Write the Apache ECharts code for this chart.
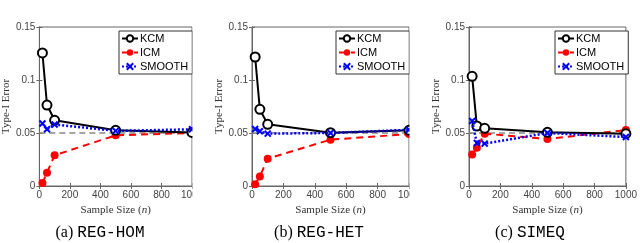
<!DOCTYPE html>
<html><head><meta charset="utf-8">
<script src="https://cdn.jsdelivr.net/npm/echarts@6/dist/echarts.min.js"></script>
<style>html,body{margin:0;padding:0;background:#fff}#c{width:640px;height:243px}</style>
</head><body><div id="c"></div>
<script>
const sampleSizes = [20, 50, 100, 500, 1000];
const seriesNames = ['KCM', 'ICM', 'SMOOTH'];
const panelLetters = ['(a)', '(b)', '(c)'];
const panelNames = ['REG-HOM', 'REG-HET', 'SIMEQ'];
const nominalLevel = 0.05;

const kcmRegHom = [0.1255, 0.0764, 0.062, 0.0525, 0.0505];
const icmRegHom = [0.0028, 0.0126, 0.029, 0.0478, 0.050];
const smoothRegHom = [0.059, 0.0535, 0.058, 0.052, 0.0535];

const kcmRegHet = [0.1217, 0.0723, 0.0582, 0.0503, 0.0525];
const icmRegHet = [0.0016, 0.009, 0.0258, 0.0437, 0.049];
const smoothRegHet = [0.0538, 0.0516, 0.0494, 0.050, 0.053];

const kcmSimeq = [0.1035, 0.0566, 0.0544, 0.0506, 0.0494];
const icmSimeq = [0.0296, 0.0362, 0.0494, 0.0443, 0.0528];
const smoothSimeq = [0.0613, 0.0406, 0.040, 0.050, 0.0462];

const panelData = [
  [kcmRegHom, icmRegHom, smoothRegHom],
  [kcmRegHet, icmRegHet, smoothRegHet],
  [kcmSimeq, icmSimeq, smoothSimeq]
];

const grids = [
  {left: 34, top: 27, width: 158, height: 159},
  {left: 252, top: 27, width: 157, height: 159},
  {left: 469, top: 27, width: 160, height: 159}
];
const legendLefts = [119, 336, 555];
const captionCenters = [100, 319, 530];

const axisColor = '#666';
const labelColor = '#444';
const xMark = 'path://M0,0L10,10M10,0L0,10';
const plainNum = v => String(v);

const xAxes = [], yAxes = [], series = [], legends = [], graphics = [];
grids.forEach((g, i) => {
  xAxes.push({
    type: 'value', gridIndex: i, min: 0, max: 1000, interval: 200, position: 'bottom',
    name: 'Sample Size ({i|n})', nameLocation: 'middle', nameGap: 14,
    nameTextStyle: {fontFamily: 'Liberation Serif', fontSize: 11, color: '#333',
      rich: {i: {fontFamily: 'Liberation Serif', fontStyle: 'italic', fontSize: 11, color: '#333'}}},
    axisLine: {show: true, lineStyle: {color: axisColor, width: 1}},
    axisTick: {show: true, inside: true, length: 3, lineStyle: {color: axisColor}},
    axisLabel: {margin: 4, fontSize: 10, color: labelColor, fontFamily: 'Liberation Sans', formatter: plainNum},
    splitLine: {show: false}
  });
  xAxes.push({
    type: 'value', gridIndex: i, min: 0, max: 1000, interval: 200, position: 'top',
    axisLine: {show: true, lineStyle: {color: axisColor, width: 1}},
    axisTick: {show: true, inside: true, length: 3, lineStyle: {color: axisColor}},
    axisLabel: {show: false}, splitLine: {show: false}
  });
  yAxes.push({
    type: 'value', gridIndex: i, min: 0, max: 0.15, interval: 0.05, position: 'left',
    name: 'Type-I Error', nameLocation: 'middle', nameGap: 23, nameRotate: 90,
    nameTextStyle: {fontFamily: 'Liberation Serif', fontSize: 11, color: '#333'},
    axisLine: {show: true, lineStyle: {color: axisColor, width: 1}},
    axisTick: {show: true, inside: true, length: 3, lineStyle: {color: axisColor}},
    axisLabel: {margin: 4, fontSize: 10, color: labelColor, fontFamily: 'Liberation Sans', formatter: plainNum},
    splitLine: {show: false}
  });
  yAxes.push({
    type: 'value', gridIndex: i, min: 0, max: 0.15, interval: 0.05, position: 'right',
    axisLine: {show: true, lineStyle: {color: axisColor, width: 1}},
    axisTick: {show: true, inside: true, length: 3, lineStyle: {color: axisColor}},
    axisLabel: {show: false}, splitLine: {show: false}
  });
  const [kcm, icm, smooth] = panelData[i];
  const toPts = arr => sampleSizes.map((x, k) => [x, arr[k]]);
  series.push({
    name: 'KCM', type: 'line', xAxisIndex: 2 * i, yAxisIndex: 2 * i, data: toPts(kcm),
    color: '#000', symbol: 'emptyCircle', symbolSize: 9, z: 4,
    lineStyle: {color: '#000', width: 2},
    itemStyle: {color: '#000', borderColor: '#000', borderWidth: 1.8},
    markLine: {silent: true, symbol: 'none', label: {show: false}, z: 1,
      lineStyle: {color: '#888', type: [6, 4], width: 1.5},
      data: [{yAxis: nominalLevel}]}
  });
  series.push({
    name: 'ICM', type: 'line', xAxisIndex: 2 * i, yAxisIndex: 2 * i, data: toPts(icm),
    color: '#f00', symbol: 'circle', symbolSize: 8, z: 3,
    lineStyle: {color: '#f00', width: 2, type: [7, 5]},
    itemStyle: {color: '#f00', borderColor: '#f00', borderWidth: 0}
  });
  series.push({
    name: 'SMOOTH', type: 'line', xAxisIndex: 2 * i, yAxisIndex: 2 * i, data: toPts(smooth),
    color: '#00f', symbol: xMark, symbolSize: 6, z: 5,
    lineStyle: {color: '#00f', width: 2.5, type: [2, 2]},
    itemStyle: {color: '#00f', borderColor: '#00f', borderWidth: 2}
  });
  legends.push({
    orient: 'vertical', left: legendLefts[i], top: 31, data: seriesNames,
    backgroundColor: '#fff', borderColor: '#333', borderWidth: 1,
    padding: [2, 4, 2, 2], itemWidth: 16, itemHeight: 8, itemGap: 3,
    textStyle: {fontSize: 11, color: '#000', fontFamily: 'Liberation Sans', padding: [0, 0, 0, -3]},
    selectedMode: false
  });
  graphics.push({
    type: 'text', x: captionCenters[i], y: 233, z: 10,
    style: {
      text: '{a|' + panelLetters[i] + ' }{b|' + panelNames[i] + '}',
      align: 'center', verticalAlign: 'middle',
      rich: {
        a: {fontFamily: 'Liberation Serif', fontSize: 16, fill: '#000'},
        b: {fontFamily: 'Liberation Mono', fontSize: 16, fill: '#000'}
      }
    }
  });
});
// crop of the right edge of panels (a) and (b) as in the reference
graphics.push({type: 'rect', shape: {x: 192.5, y: 20, width: 22, height: 178}, style: {fill: '#fff'}, z: 100});
graphics.push({type: 'rect', shape: {x: 409.5, y: 20, width: 14, height: 178}, style: {fill: '#fff'}, z: 100});

const chart = echarts.init(document.getElementById('c'), null, {renderer: 'canvas'});
chart.setOption({
  animation: false,
  backgroundColor: '#fff',
  grid: grids.map(g => Object.assign({show: true, borderColor: axisColor, borderWidth: 1, backgroundColor: 'transparent'}, g)),
  xAxis: xAxes,
  yAxis: yAxes,
  legend: legends,
  series: series,
  graphic: graphics
});
</script>
</body></html>
